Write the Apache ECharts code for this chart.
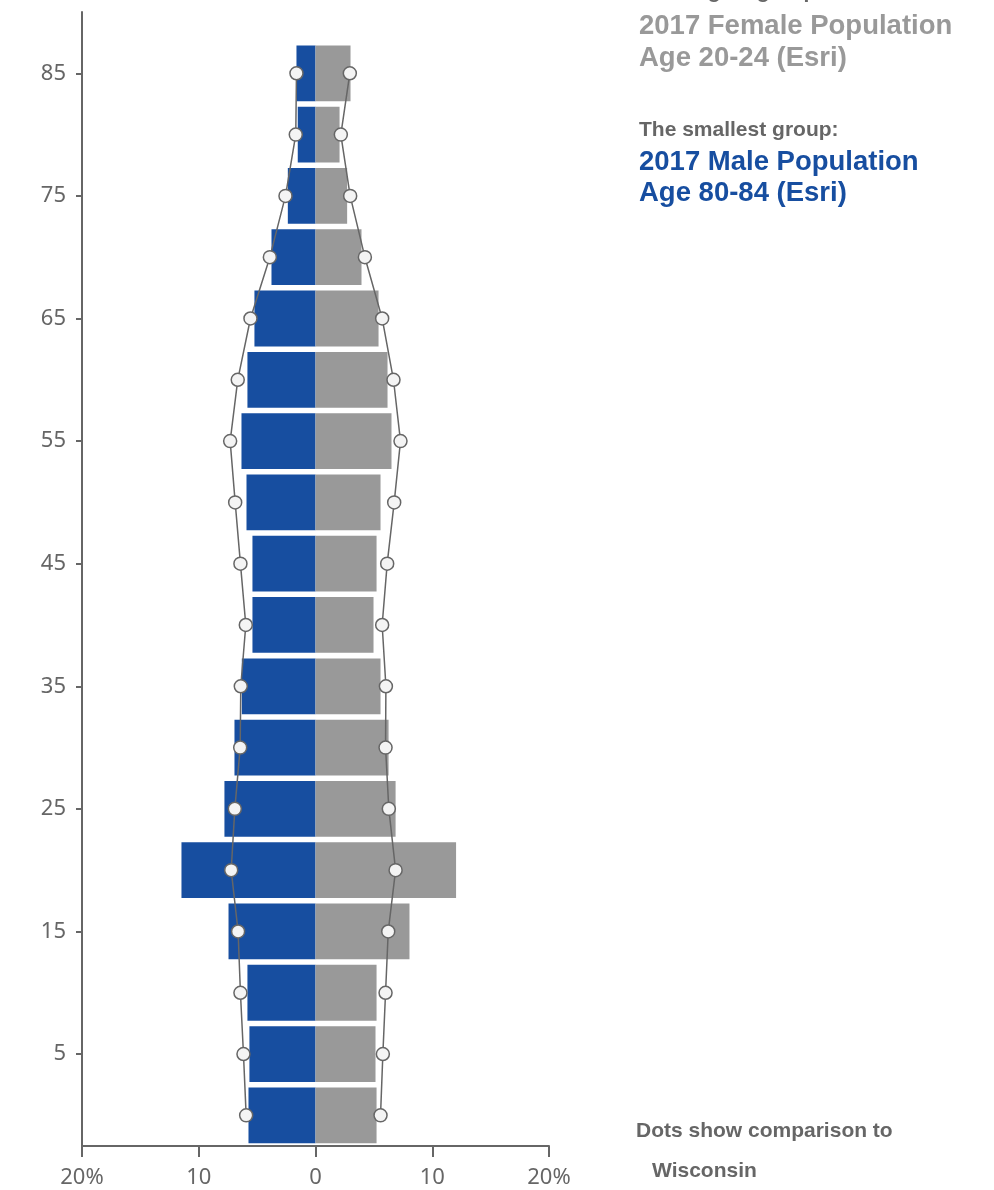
<!DOCTYPE html>
<html>
<head>
<meta charset="utf-8">
<title>Population pyramid</title>
<script src="https://cdn.jsdelivr.net/npm/echarts@6/dist/echarts.min.js"></script>
<style>
  html, body { margin: 0; padding: 0; background: #ffffff; }
  #chart { width: 994px; height: 1190px; }
</style>
</head>
<body>
<div id="chart"></div>
<script>
// Age groups, labelled by their starting age (0-4 ... 85+)
const ages = [0, 5, 10, 15, 20, 25, 30, 35, 40, 45, 50, 55, 60, 65, 70, 75, 80, 85];

// Share of the area population in each group, percent (2017, Esri)
const maleArea   = [5.74, 5.66, 5.83, 7.45, 11.48, 7.80, 6.94, 6.31, 5.40, 5.40, 5.91, 6.34, 5.83, 5.23, 3.77, 2.37, 1.52, 1.63];
const femaleArea = [5.23, 5.14, 5.23, 8.05, 12.04, 6.86, 6.26, 5.57, 4.97, 5.23, 5.57, 6.51, 6.17, 5.40, 3.94, 2.71, 2.06, 3.00];

// Same shares for Wisconsin, drawn as dots
const maleState   = [5.94, 6.17, 6.43, 6.63, 7.22, 6.91, 6.45, 6.40, 5.97, 6.43, 6.88, 7.31, 6.66, 5.57, 3.91, 2.57, 1.69, 1.63];
const femaleState = [5.57, 5.77, 6.00, 6.23, 6.86, 6.28, 6.00, 6.03, 5.71, 6.14, 6.74, 7.28, 6.68, 5.71, 4.23, 2.97, 2.17, 2.94];

// Tick values
const ageTicks = [5, 15, 25, 35, 45, 55, 65, 75, 85];

const BLUE = '#174ea0';
const GRAY = '#999999';
const AXIS = '#666666';

const chart = echarts.init(document.getElementById('chart'), null, { renderer: 'canvas' });

// Horizontal bars placed on the value age axis
function barRenderer(color) {
  return function (params, api) {
    const v = api.value(0);
    const age = api.value(1);
    const p0 = api.coord([0, age]);
    const p1 = api.coord([v, age]);
    const h = api.size([0, 4.55])[1];
    return {
      type: 'rect',
      shape: {
        x: Math.min(p0[0], p1[0]),
        y: p0[1] - h / 2,
        width: Math.abs(p1[0] - p0[0]),
        height: h
      },
      style: { fill: color }
    };
  };
}

const maleBars = ages.map((a, i) => [-maleArea[i], a]);
const femaleBars = ages.map((a, i) => [femaleArea[i], a]);
const maleDots = ages.map((a, i) => [-maleState[i], a]);
const femaleDots = ages.map((a, i) => [femaleState[i], a]);

const dotSeries = (name, data) => ({
  type: 'line',
  name: name,
  data: data,
  z: 5,
  symbol: 'circle',
  symbolSize: 13,
  showSymbol: true,
  lineStyle: { color: AXIS, width: 1.5 },
  itemStyle: { color: '#f4f4f4', borderColor: AXIS, borderWidth: 1.5 },
  emphasis: { disabled: true }
});

const labelFont = { fontFamily: '"Noto Sans", sans-serif', fontSize: 22, color: AXIS };

// Bold side notes; x/y give the left edge and the vertical middle of the line
const boldText = (text, x, y, size, color) => ({
  type: 'text',
  x: x,
  y: y,
  style: {
    text: text,
    fontFamily: '"Liberation Sans", Arial, sans-serif',
    fontWeight: 'bold',
    fontSize: size,
    fill: color,
    verticalAlign: 'middle',
    align: 'left'
  }
});

chart.setOption({
  animation: false,
  backgroundColor: '#ffffff',
  grid: {
    left: 82, right: 445, top: 12, bottom: 44,
    containLabel: false,
    outerBoundsMode: 'none'
  },
  xAxis: {
    type: 'value',
    min: -20, max: 20, interval: 10,
    splitLine: { show: false },
    axisLine: { show: true, onZero: false, lineStyle: { color: AXIS, width: 2 } },
    axisTick: { show: true, length: 11, lineStyle: { color: AXIS, width: 2 } },
    axisLabel: Object.assign({
      margin: 21,
      formatter: v => (Math.abs(v) === 20 ? '20%' : String(Math.abs(v)))
    }, labelFont)
  },
  yAxis: {
    type: 'value',
    min: -2.5, max: 90,
    splitLine: { show: false },
    axisLine: { show: true, onZero: false, lineStyle: { color: AXIS, width: 2 } },
    axisTick: { show: true, length: 6, customValues: ageTicks, lineStyle: { color: AXIS, width: 2 } },
    axisLabel: Object.assign({ margin: 16, customValues: ageTicks }, labelFont)
  },
  series: [
    { type: 'custom', name: 'Male', data: maleBars, encode: { x: 0, y: 1 }, renderItem: barRenderer(BLUE), z: 2 },
    { type: 'custom', name: 'Female', data: femaleBars, encode: { x: 0, y: 1 }, renderItem: barRenderer(GRAY), z: 2 },
    dotSeries('Male, Wisconsin', maleDots),
    dotSeries('Female, Wisconsin', femaleDots)
  ],
  graphic: [
    boldText('The largest group:', 639, -7.5, 21, AXIS),
    boldText('2017 Female Population', 639, 26.5, 27.5, GRAY),
    boldText('Age 20-24 (Esri)', 639, 58.5, 27.5, GRAY),
    boldText('The smallest group:', 639, 130, 21, AXIS),
    boldText('2017 Male Population', 639, 162, 27.5, BLUE),
    boldText('Age 80-84 (Esri)', 639, 193, 27.5, BLUE),
    boldText('Dots show comparison to', 636, 1131, 21, AXIS),
    boldText('Wisconsin', 652, 1171, 21, AXIS)
  ]
});
</script>
</body>
</html>
